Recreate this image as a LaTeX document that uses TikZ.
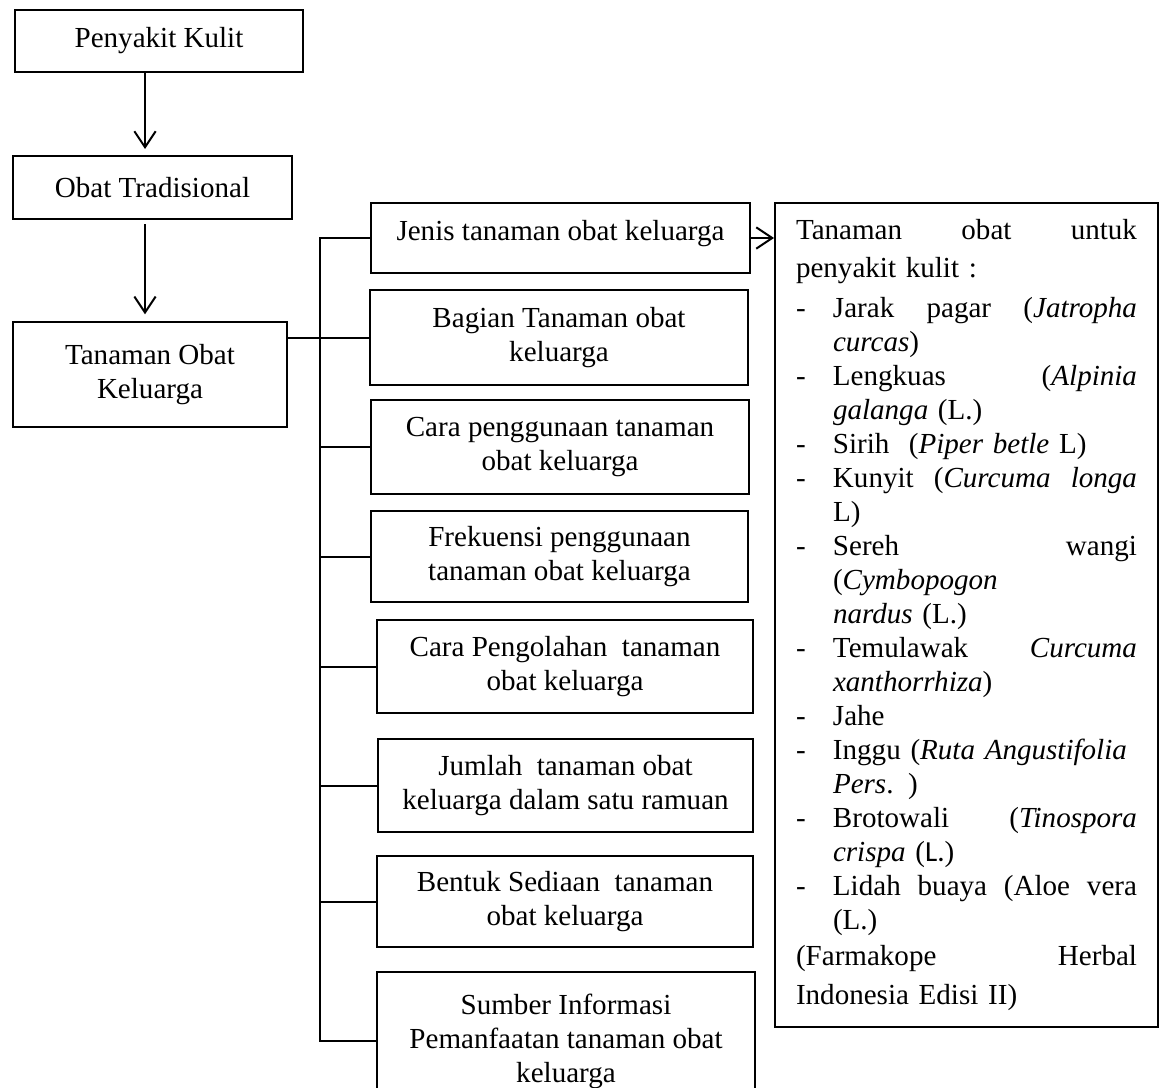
\documentclass[tikz,border=0pt]{standalone}
\usepackage{fontspec}
\setmainfont{Liberation Serif}
\newfontfamily\calfont{Carlito}
\usetikzlibrary{arrows.meta}
\newcommand{\rline}[1]{\leavevmode\hbox to \linewidth{#1\hfil}}
\newcommand{\ditem}[1]{\rline{\makebox[27.75pt][l]{-}#1}}
\newcommand{\dcont}[1]{\rline{\hspace*{27.75pt}#1}}
\begin{document}
\begin{tikzpicture}[x=0.75pt,y=-0.75pt,line width=1.5pt,
    box/.style={draw,rectangle,inner sep=0pt,align=center,font=\fontsize{21.8}{25.5}\selectfont},
    sz/.style 2 args={minimum width=#1*0.75pt,minimum height=#2*0.75pt},
    arr/.style={-{Straight Barb[length=12pt,width=16pt]}}]
  \path[use as bounding box,fill=white] (0,0) rectangle (1163,1088);

  \node[box,sz={288}{62}] (pk) at (159,41) {Penyakit Kulit};
  \node[box,sz={279}{63}] (ot) at (152.5,187.5) {Obat Tradisional};
  \node[box,sz={274}{105}] (tok) at (150,374.5) {Tanaman Obat\\Keluarga};

  \node[box,sz={379}{70},text depth=12pt] (jenis) at (560.5,238) {Jenis tanaman obat keluarga};
  \node[box,sz={378}{95}] (bagian) at (559,337.5) {Bagian Tanaman obat\\keluarga};
  \node[box,sz={378}{94}] (carap) at (560,447) {Cara penggunaan tanaman\\obat keluarga};
  \node[box,sz={377}{91}] (frek) at (559.5,556.5) {Frekuensi penggunaan\\tanaman obat keluarga};
  \node[box,sz={376}{93}] (carao) at (565,666.5) {Cara Pengolahan~ tanaman\\obat keluarga};
  \node[box,sz={375}{93}] (jumlah) at (565.5,785.5) {Jumlah~ tanaman obat\\keluarga dalam satu ramuan};
  \node[box,sz={376}{91}] (bentuk) at (565,901.5) {Bentuk Sediaan~ tanaman\\obat keluarga};
  \node[box,sz={378}{138}] (sumber) at (566,1041) {Sumber Informasi\\Pemanfaatan tanaman obat\\keluarga};

  \node[box,sz={383}{824},align=left,text width=255.75pt,inner xsep=15.75pt] (tanaman) at (966.5,615) {%
    \rline{Tanaman\hfill obat\hfill untuk}\\[3pt]
    \rline{penyakit kulit :}\\[4.5pt]
    \ditem{Jarak\hfill pagar\hfill (\textit{Jatropha}}\\
    \dcont{\textit{curcas})}\\
    \ditem{Lengkuas\hfill (\textit{Alpinia}}\\
    \dcont{\textit{galanga} (L.)}\\
    \ditem{Sirih~ (\textit{Piper betle} L)}\\
    \ditem{Kunyit\hfill (\textit{Curcuma}\hfill \textit{longa}}\\
    \dcont{L)}\\
    \ditem{Sereh\hfill wangi}\\
    \dcont{(\textit{Cymbopogon}}\\
    \dcont{\textit{nardus} (L.)}\\
    \ditem{Temulawak\hfill \textit{Curcuma}}\\
    \dcont{\textit{xanthorrhiza})}\\
    \ditem{Jahe}\\
    \ditem{Inggu (\textit{Ruta Angustifolia}}\\
    \dcont{\textit{Pers}. )}\\
    \ditem{Brotowali\hfill (\textit{Tinospora}}\\
    \dcont{\textit{crispa} ({\calfont L.})}\\
    \ditem{Lidah\hfill buaya\hfill (Aloe\hfill vera}\\
    \dcont{(L.)}\\[1.5pt]
    \rline{(Farmakope\hfill Herbal}\\[3.75pt]
    \rline{Indonesia Edisi II)}};

  \coordinate (ar) at (145,0);
  \coordinate (bar) at (320,0);
  \draw[arr,shorten >=4.5pt] (pk.south -| ar) -- (ot.north -| ar);
  \draw[arr,shorten <=3pt,shorten >=5pt] (ot.south -| ar) -- (tok.north -| ar);
  \draw (tok.east |- bagian.west) -- (bagian.west);
  \draw (jenis.west) -- (bar |- jenis.west) -- (bar |- sumber.west) -- (sumber.west);
  \foreach \n in {bagian,carap,frek,carao,jumlah,bentuk}
    \draw (bar |- \n.west) -- (\n.west);
  \draw[arr] (jenis.east) -- (jenis.east -| tanaman.west);
\end{tikzpicture}
\end{document}
